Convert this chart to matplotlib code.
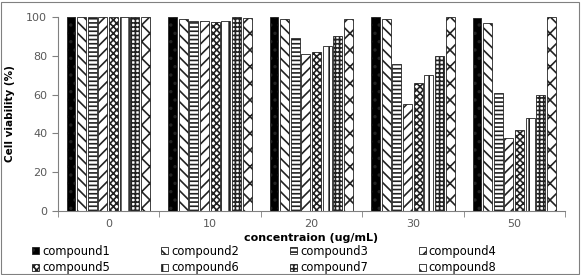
import matplotlib
matplotlib.use("Agg")
import matplotlib.pyplot as plt
from matplotlib.patches import Patch, Rectangle
import numpy as np

plt.rcParams['hatch.linewidth'] = 1.2

categories = ["0", "10", "20", "30", "50"]
compounds = ["compound1", "compound2", "compound3", "compound4",
             "compound5", "compound6", "compound7", "compound8"]
values = {
    "compound1": [100, 100, 100, 100, 99.5],
    "compound2": [100, 99, 99, 99, 97],
    "compound3": [100, 98, 89, 76, 61],
    "compound4": [100, 98, 81, 55, 37.5],
    "compound5": [100, 97.5, 82, 66, 41.5],
    "compound6": [100, 98, 85, 70, 48],
    "compound7": [100, 100, 90, 80, 60],
    "compound8": [100, 99.5, 99, 100, 100],
}
yticks = [0, 20, 40, 60, 80, 100]

styles = [
    dict(facecolor="black", hatch=".."),
    dict(facecolor="white", hatch="\\\\\\"),
    dict(facecolor="white", hatch="----"),
    dict(facecolor="white", hatch="///"),
    dict(facecolor="white", hatch="xxxxx"),
    dict(facecolor="white", hatch="||"),
    dict(facecolor="white", hatch="++++"),
    dict(facecolor="white", hatch="xx"),
]

fig = plt.figure(figsize=(5.81, 2.75), dpi=100)
ax = fig.add_axes([0.099, 0.233, 0.8735, 0.705])

x = np.arange(len(categories))
step = 0.105
w = 0.088
for i, c in enumerate(compounds):
    off = (i - 3.5) * step
    ax.bar(x + off, values[c], width=w, edgecolor="#222222", linewidth=0.6,
           **styles[i])

ax.set_xlim(-0.5, len(categories) - 0.5)
ax.set_ylim(0, 100)
ax.set_yticks(yticks)
ax.set_xticks(x)
ax.set_xticklabels(categories)
ax.set_xticks(np.arange(-0.5, len(categories)), minor=True)
ax.tick_params(axis="x", which="major", length=0, colors="#595959", labelsize=8, pad=6)
ax.tick_params(axis="x", which="minor", length=4, direction="out", color="#808080")
ax.tick_params(axis="y", length=4, direction="out", color="#808080", colors="#595959", labelsize=8)
for s in ["top", "right"]:
    ax.spines[s].set_visible(False)
for s in ["left", "bottom"]:
    ax.spines[s].set_color("#808080")
    ax.spines[s].set_linewidth(0.8)

ax.set_ylabel("Cell viability (%)", fontsize=7.5, fontweight="bold", labelpad=8)
ax.set_xlabel("concentraion (ug/mL)", fontsize=8, fontweight="bold", labelpad=3)

handles = [Patch(edgecolor="#222222", linewidth=0.6, **styles[i]) for i in range(8)]
order = [0, 4, 1, 5, 2, 6, 3, 7]
ax.legend([handles[k] for k in order], [compounds[k] for k in order], ncol=4,
          loc="upper left", bbox_to_anchor=(-0.05, -0.175),
          frameon=False, fontsize=8.3, handlelength=0.6, handleheight=0.6,
          handletextpad=0.25, columnspacing=4.45, labelspacing=0.3,
          borderaxespad=0, borderpad=0)

fig.patches.append(Rectangle((0.002, 0.004), 0.995, 0.99, transform=fig.transFigure,
                             fill=False, edgecolor="#808080", linewidth=0.8))

fig.savefig("out.png", dpi=100)
